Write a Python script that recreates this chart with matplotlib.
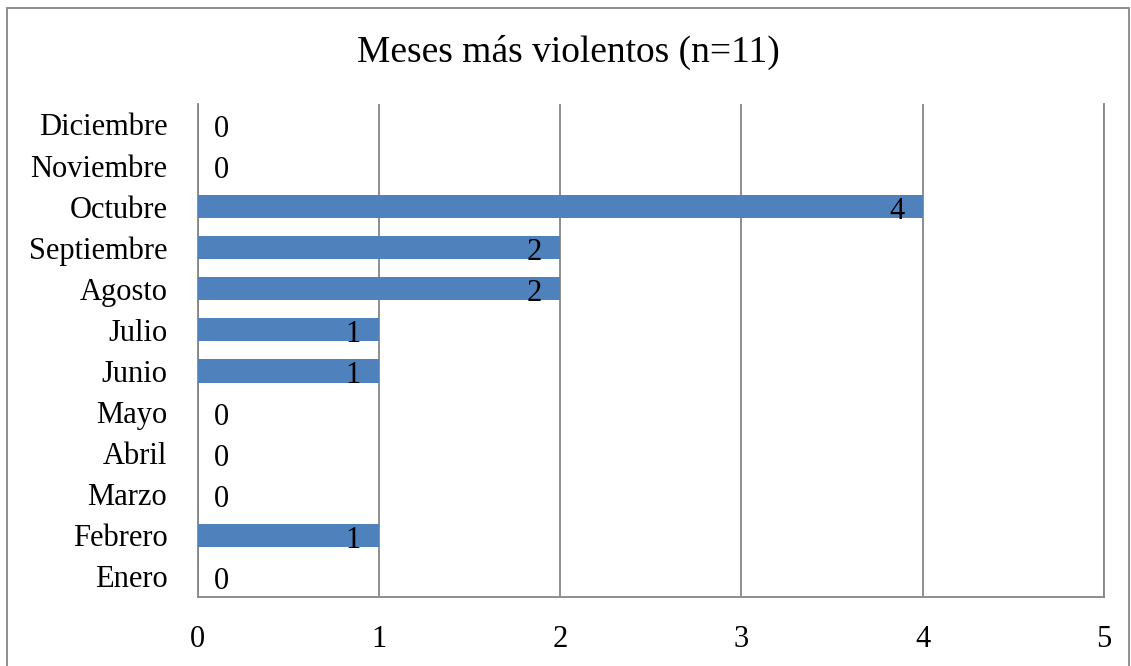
import matplotlib.pyplot as plt
from matplotlib.patches import Rectangle

meses = ["Enero", "Febrero", "Marzo", "Abril", "Mayo", "Junio", "Julio",
         "Agosto", "Septiembre", "Octubre", "Noviembre", "Diciembre"]
casos = [0, 1, 0, 0, 0, 1, 1, 2, 2, 4, 0, 0]
x_ticks = [0, 1, 2, 3, 4, 5]

plt.rcParams['font.family'] = ['Liberation Serif', 'DejaVu Serif']

fig = plt.figure(figsize=(11.31, 6.66), dpi=100)
ax = fig.add_axes([0.175, 0.1036, 0.801, 0.7404])

# chart border (Excel style)
fig.patches.append(Rectangle((7 / 1131, -0.05), 1122 / 1131, 1.05 - 8 / 666,
                             transform=fig.transFigure, fill=False,
                             edgecolor="#868686", linewidth=1.3))

y = range(len(meses))
ax.barh(y, casos, height=0.56, color="#4F81BD", zorder=3)

for i, v in enumerate(casos):
    if v == 0:
        ax.text(0.09, i - 0.12, str(v), ha="left", va="center", fontsize=22, zorder=4)
    else:
        ax.text(v - 0.1, i - 0.12, str(v), ha="right", va="center", fontsize=22, zorder=4)

ax.set_xlim(0, 5)
ax.set_ylim(-0.5, 11.5)
ax.set_xticks(x_ticks)
ax.set_yticks(list(y))
ax.set_yticklabels(meses)
ax.tick_params(length=0, labelsize=22)
ax.tick_params(axis="x", pad=20)
ax.tick_params(axis="y", pad=22)
ax.xaxis.grid(True, color="#868686", linewidth=1.3, zorder=0)
ax.set_axisbelow(True)

ax.spines["top"].set_visible(False)
for s in ["left", "bottom", "right"]:
    ax.spines[s].set_color("#868686")
    ax.spines[s].set_linewidth(1.3)

fig.text(0.5 * (7 + 1129) / 1131, 1 - 52 / 666, "Meses más violentos (n=11)",
         ha="center", va="center", fontsize=27)

plt.savefig("out.png", dpi=100)
